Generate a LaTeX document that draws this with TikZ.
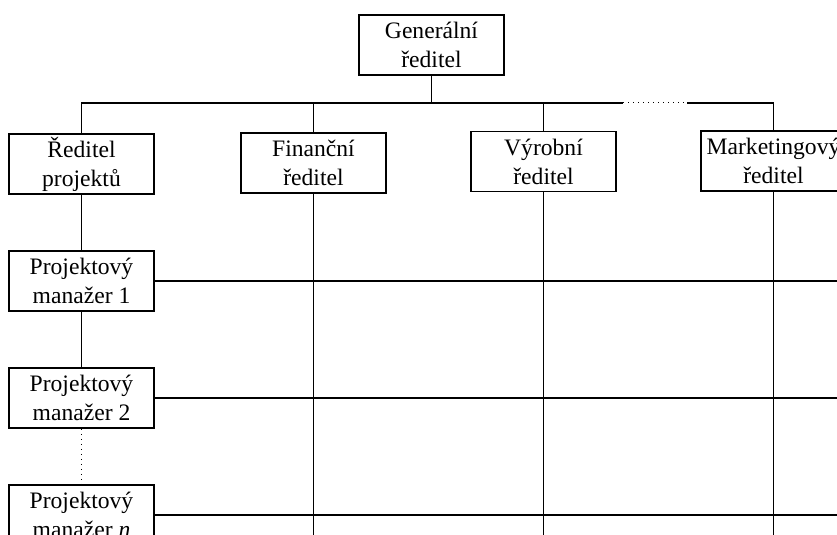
\documentclass[tikz,border=0pt]{standalone}
\usepackage{fontspec}
\setmainfont{Liberation Serif}
\usetikzlibrary{positioning}
\begin{document}
\begin{tikzpicture}[x=0.5pt, y=-0.5pt, line width=0.8pt, node distance=58.5pt,
  box/.style={draw, align=center, minimum width=72.5pt, minimum height=30pt, inner sep=1pt,
    font=\fontsize{11.8}{14.5}\selectfont}]
\useasboundingbox (0,0) rectangle (837,535);
\node[box] (gen) at (431.5,45) {Generální\\ředitel};
\node[box] (rp) at (81.5,164) {Ředitel\\projektů};
\node[box] (fin) at (313.5,163) {Finanční\\ředitel};
\node[box] (vyr) at (543.5,161.5) {Výrobní\\ředitel};
\node[box] (mkt) at (773.5,161) {Marketingový\\ředitel};
\node[box, below of=rp] (pm1) {Projektový\\manažer 1};
\node[box, below of=pm1] (pm2) {Projektový\\manažer 2};
\node[box, below of=pm2] (pmn) {Projektový\\manažer \textit{n}};
\coordinate (bus) at (0,103);
\coordinate (dotA) at (623,103);
\coordinate (dotB) at (687,103);
\coordinate (bottom) at (0,540);
\coordinate (right) at (840,0);
\draw (gen.south) -- (gen.south |- bus);
\draw (rp.north) -- (rp.north |- bus) -- (dotA);
\draw[dotted, line width=0.5pt] (dotA) -- (dotB);
\draw (dotB) -| (mkt.north);
\draw (fin.north) -- (fin.north |- bus);
\draw (vyr.north) -- (vyr.north |- bus);
\draw (fin.south) -- (fin.south |- bottom);
\draw (vyr.south) -- (vyr.south |- bottom);
\draw (mkt.south) -- (mkt.south |- bottom);
\draw (rp) -- (pm1);
\draw (pm1) -- (pm2);
\draw[dotted, line width=0.5pt] (pm2) -- (pmn);
\draw (pm1.east) -- (pm1.east -| right);
\draw (pm2.east) -- (pm2.east -| right);
\draw (pmn.east) -- (pmn.east -| right);
\end{tikzpicture}
\end{document}
